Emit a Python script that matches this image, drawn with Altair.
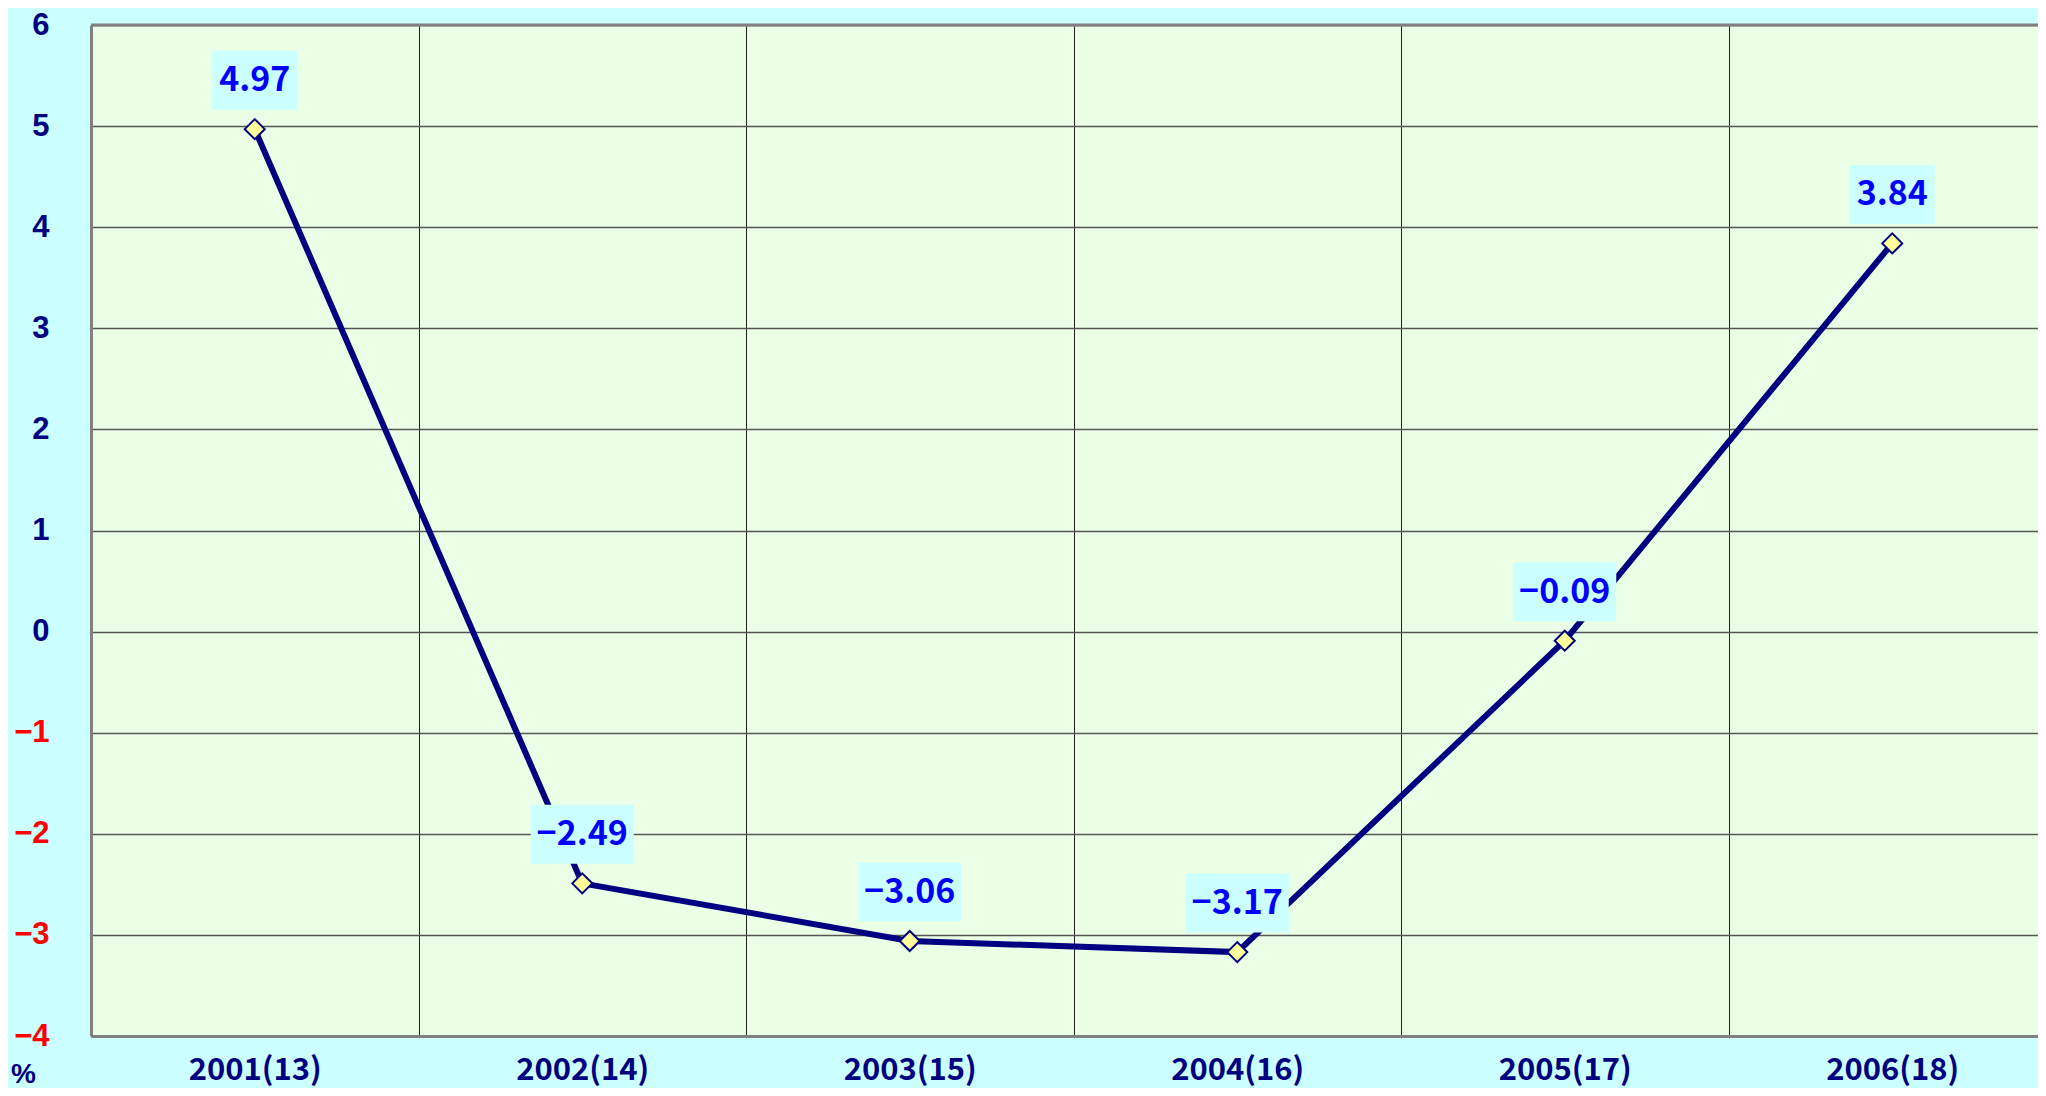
import altair as alt
import pandas as pd

years = ["2001(13)", "2002(14)", "2003(15)", "2004(16)", "2005(17)", "2006(18)"]
values = [4.97, -2.49, -3.06, -3.17, -0.09, 3.84]
labels = ["4.97", "−2.49", "−3.06", "−3.17", "−0.09", "3.84"]

df = pd.DataFrame({"year": years, "value": values, "label": labels})
BOX_H = 59
def box_path(lbl):
    w = 18 * len(lbl) + 13
    r = BOX_H / w
    return f"M-1,-{r:.4f}H1V{r:.4f}H-1Z", w * w
df["shape"] = [box_path(l)[0] for l in labels]
df["bsize"] = [box_path(l)[1] for l in labels]

W, H = 1947, 1011
STEP = 327.5
FONT = "Noto Sans CJK JP"
YFONT = "Liberation Sans"

x = alt.X("year:N", sort=years,
          scale=alt.Scale(range=[0, STEP * 6], paddingInner=0, paddingOuter=0),
          axis=alt.Axis(title=None, labelAngle=0, labelFont=FONT, labelFontSize=31,
                        labelFontWeight="bold", labelColor="#000080", labelPadding=19,
                        ticks=False, grid=True, gridColor="#222222", gridWidth=1,
                        tickBand="extent", domainColor="#808080", domainWidth=3))
y = alt.Y("value:Q",
          scale=alt.Scale(domain=[-4, 6], nice=False),
          axis=alt.Axis(values=list(range(-4, 7)), title="%", titleAngle=0,
                        titleX=-68, titleY=H + 38, titleAlign="center", titleBaseline="middle",
                        titleFont=YFONT, titleFontSize=28, titleFontWeight="bold", titleColor="#000080",
                        labelFont=YFONT, labelFontSize=31, labelFontWeight="bold",
                        labelColor=alt.expr("datum.value < 0 ? '#FF0000' : '#000080'"),
                        labelExpr="datum.value < 0 ? '−' + abs(datum.value) : '' + datum.value",
                        labelPadding=42, labelBaseline="middle", ticks=False,
                        grid=True, gridColor="#555555", gridWidth=1.5,
                        domainColor="#808080", domainWidth=3))

base = alt.Chart(df)
line = base.mark_line(color="#000080", strokeWidth=6).encode(x=x, y=y)
top_rule = alt.Chart(pd.DataFrame({"v": [6]})).mark_rule(color="#808080", strokeWidth=3).encode(y=alt.Y("v:Q"))
boxes = base.mark_point(filled=True, fill="#CCFFFF", opacity=1, strokeWidth=0, yOffset=-49).encode(
    x=x, y=y,
    shape=alt.Shape("shape:N", scale=None),
    size=alt.Size("bsize:Q", scale=None))
texts = base.mark_text(font=FONT, fontSize=34, fontWeight="bold", color="#0000FF",
                       baseline="middle", dy=-48).encode(x=x, y=y, text="label:N")
points = base.mark_point(shape="diamond", filled=True, fill="#FFFF99", stroke="#000080",
                         strokeWidth=2, size=400, opacity=1).encode(x=x, y=y)

chart = alt.layer(line, top_rule, points, boxes, texts).properties(
    width=W, height=H,
    autosize=alt.AutoSizeParams(type="none"),
    padding={"left": 83, "top": 17, "right": 0, "bottom": 52},
    background="#CCFFFF",
).configure_view(fill="#EAFFE6", stroke=None)

chart.save("out.html", embed_options={"renderer": "svg", "actions": False})
